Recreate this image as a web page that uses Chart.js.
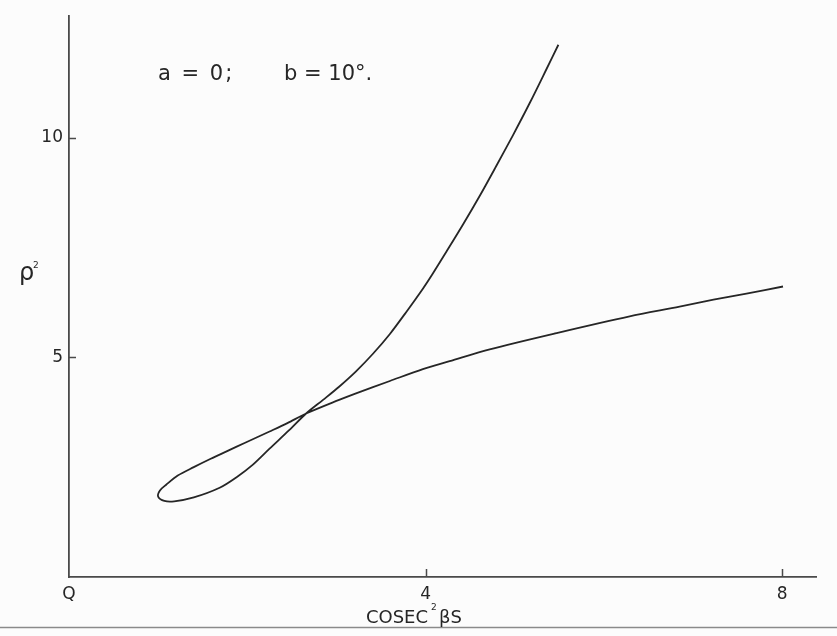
<!DOCTYPE html>
<html>
<head>
<meta charset="utf-8">
<script src="https://cdn.jsdelivr.net/npm/chart.js@4/dist/chart.umd.min.js"></script>
<style>
  html, body { margin: 0; padding: 0; background: #fcfcfc; }
  #wrap { width: 837px; height: 636px; }
</style>
</head>
<body>
<div id="wrap"><canvas id="c" width="837" height="636"></canvas></div>
<script>
// Steep branch: from the top end down through the crossing, round the lower side of the loop to its tip
const steepX = [5.49, 5.36, 5.17, 4.98, 4.79, 4.61, 4.42, 4.23, 4.08, 3.97, 3.78, 3.60, 3.41, 3.22, 3.03, 2.85, 2.66,
                2.47, 2.25, 2.06, 1.88, 1.69, 1.40, 1.18, 1.07, 1.00];
const steepY = [12.11, 11.57, 10.79, 10.05, 9.34, 8.68, 8.02, 7.39, 6.90, 6.56, 6.02, 5.53, 5.08, 4.68, 4.33, 4.03, 3.72,
                3.34, 2.92, 2.55, 2.27, 2.03, 1.81, 1.72, 1.73, 1.83];
// Flat branch: from the loop tip along its upper side, through the crossing, out to the right
const flatX = [1.00, 1.02, 1.09, 1.22, 1.40, 1.59, 1.78, 1.97, 2.25, 2.45, 2.66, 3.03, 3.22, 3.60, 3.97, 4.27, 4.72, 5.47, 6.29, 6.85, 7.23, 7.60, 8.01];
const flatY = [1.83, 1.97, 2.10, 2.31, 2.50, 2.69, 2.87, 3.05, 3.31, 3.50, 3.72, 4.03, 4.18, 4.46, 4.73, 4.91, 5.18, 5.55, 5.93, 6.15, 6.31, 6.45, 6.61];

const xTickValues = [0, 4, 8];
const xTickLabels = ['Q', '4', '8'];
const yTickValues = [5, 10];
const yTickLabels = ['5', '10'];

const xTitleParts = ['COSEC', '2', 'βS'];
const yTitleParts = ['ρ', '2'];
const noteParts = ['a = 0;', 'b = 10°.'];

// one continuous curve: steep branch then flat branch (tip shared)
const pathPoints = steepX.map((x, i) => ({ x: x, y: steepY[i] }))
  .concat(flatX.slice(1).map((x, i) => ({ x: x, y: flatY[i + 1] })));

const INK = '#262626';
const AXIS = '#4a4a4a';
const FONT = '"DejaVu Sans", sans-serif';

const decor = {
  id: 'decor',
  beforeDraw(chart) {
    const ctx = chart.ctx;
    ctx.save();
    ctx.fillStyle = '#fcfcfc';
    ctx.fillRect(0, 0, chart.width, chart.height);
    // lower edge rule of the sheet
    ctx.strokeStyle = '#8a8a8a';
    ctx.lineWidth = 1.5;
    ctx.beginPath();
    ctx.moveTo(0, 627.5);
    ctx.lineTo(chart.width, 627.5);
    ctx.stroke();
    ctx.restore();
  },
  afterDraw(chart) {
    const ctx = chart.ctx;
    const xs = chart.scales.x, ys = chart.scales.y;
    const area = chart.chartArea;
    ctx.save();
    // inward tick marks
    ctx.strokeStyle = AXIS;
    ctx.lineWidth = 1.5;
    xTickValues.forEach(v => {
      if (v === 0) return;
      const px = Math.round(xs.getPixelForValue(v)) + 0.5;
      ctx.beginPath();
      ctx.moveTo(px, area.bottom);
      ctx.lineTo(px, area.bottom - 8);
      ctx.stroke();
    });
    yTickValues.forEach(v => {
      const py = Math.round(ys.getPixelForValue(v)) + 0.5;
      ctx.beginPath();
      ctx.moveTo(area.left, py);
      ctx.lineTo(area.left + 7, py);
      ctx.stroke();
    });

    ctx.fillStyle = INK;
    ctx.textBaseline = 'alphabetic';
    // x-axis title
    ctx.font = '18px ' + FONT;
    ctx.textAlign = 'right';
    ctx.fillText(xTitleParts[0], 428, 623);
    ctx.font = '9px ' + FONT;
    ctx.textAlign = 'left';
    ctx.fillText(xTitleParts[1], 431, 610);
    ctx.font = '18px ' + FONT;
    ctx.fillText(xTitleParts[2], 439, 623);

    // y-axis title
    ctx.font = '24px ' + FONT;
    ctx.textAlign = 'left';
    ctx.fillText(yTitleParts[0], 19, 280);
    ctx.font = '9px ' + FONT;
    ctx.fillText(yTitleParts[1], 33, 268);

    // parameter note
    ctx.font = '21px ' + FONT;
    ctx.letterSpacing = '2px';
    ctx.fillText(noteParts[0], 158, 80);
    ctx.letterSpacing = '0px';
    ctx.fillText(noteParts[1], 284, 80);
    ctx.restore();
  }
};

new Chart(document.getElementById('c'), {
  type: 'scatter',
  data: {
    datasets: [{
      data: pathPoints,
      showLine: true,
      borderColor: INK,
      borderWidth: 1.8,
      pointRadius: 0,
      pointHoverRadius: 0,
      tension: 0.3,
      fill: false
    }]
  },
  options: {
    responsive: false,
    animation: false,
    events: [],
    layout: { padding: { top: 13, right: 21, left: 0, bottom: 0 } },
    plugins: { legend: { display: false }, tooltip: { enabled: false } },
    scales: {
      x: {
        type: 'linear',
        min: 0,
        max: 8.38,
        afterBuildTicks(s) { s.ticks = xTickValues.map(v => ({ value: v })); },
        afterFit(s) { s.height = 59; },
        grid: { display: false, drawTicks: false },
        border: { display: true, color: AXIS, width: 1.8 },
        ticks: {
          padding: 7,
          color: INK,
          maxRotation: 0,
          autoSkip: false,
          font: { family: FONT, size: 17 },
          callback: v => { const i = xTickValues.indexOf(v); return i < 0 ? '' : xTickLabels[i]; }
        }
      },
      y: {
        type: 'linear',
        min: 0,
        max: 12.76,
        afterBuildTicks(s) { s.ticks = yTickValues.map(v => ({ value: v })); },
        afterFit(s) { s.width = 69; },
        grid: { display: false, drawTicks: false },
        border: { display: true, color: AXIS, width: 1.8 },
        ticks: {
          padding: 6,
          color: INK,
          autoSkip: false,
          font: { family: FONT, size: 17 },
          callback: v => { const i = yTickValues.indexOf(v); return i < 0 ? '' : yTickLabels[i]; }
        }
      }
    }
  },
  plugins: [decor]
});
</script>
</body>
</html>
